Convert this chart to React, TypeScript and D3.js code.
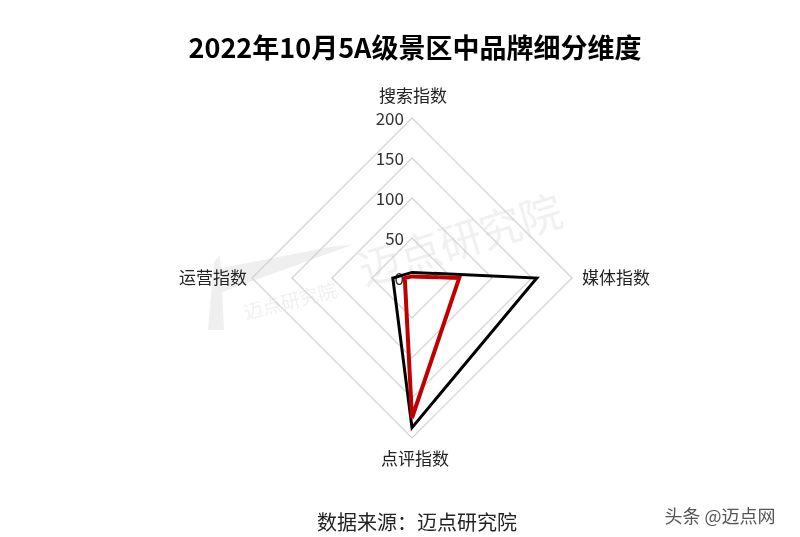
import React from "react";
import * as d3 from "d3";

const axes = ["搜索指数", "媒体指数", "点评指数", "运营指数"];
const seriesBlack = [7, 156, 187, 24];
const seriesRed = [2, 59, 175, 9];
const ticks = [0, 50, 100, 150, 200];
const title = "2022年10月5A级景区中品牌细分维度";
const source = "数据来源：迈点研究院";

const FONT = "'Noto Sans CJK SC', 'Noto Sans', sans-serif";

export default function App() {
  const W = 800, H = 537;
  const cx = 412, cy = 278, R = 160;
  const r = d3.scaleLinear().domain([0, 200]).range([0, R]);
  const angle = (i: number) => (i * 2 * Math.PI) / axes.length;
  const pt = (i: number, v: number): [number, number] => [
    cx + r(v) * Math.sin(angle(i)),
    cy - r(v) * Math.cos(angle(i)),
  ];
  const line = d3.line<[number, number]>().curve(d3.curveLinearClosed);
  const poly = (vals: number[]) => line(vals.map((v, i) => pt(i, v))) || "";
  const labelPos = [
    { x: cx + 1, y: cy - R - 16, anchor: "middle" },
    { x: cx + R + 10, y: cy + 6, anchor: "start" },
    { x: cx + 3, y: cy + R + 27, anchor: "middle" },
    { x: cx - R - 5, y: cy + 6, anchor: "end" },
  ];
  return (
    <svg width={W} height={H} style={{ position: "absolute", left: 0, top: 0, background: "#fff" }}>
      <rect width={W} height={H} fill="#fff" />
      {/* watermarks */}
      <g opacity={0.09} fill="#555">
        <text x={465} y={255} fontSize={42} fontFamily={FONT} textAnchor="middle" transform="rotate(-17 465 255)">迈点研究院</text>
        <polygon points="222,268 330,247 352,245 222,292" fill="#444" />
        <polygon points="208,330 214,262 220,255 224,330" fill="#444" />
        <text x={292} y={308} fontSize={19} fontFamily={FONT} textAnchor="middle" transform="rotate(-14 292 308)">迈点研究院</text>
      </g>
      {/* grid */}
      {ticks.slice(1).map((t) => (
        <path key={t} d={poly(axes.map(() => t))} fill="none" stroke="#d0d0d0" strokeWidth={1.2} />
      ))}
      {/* tick labels */}
      {ticks.map((t) => (
        <text key={t} x={cx - 8} y={cy - r(t) + 7} fontSize={17} fontFamily={FONT} textAnchor="end" fill="#333">{t}</text>
      ))}
      {/* series */}
      <path d={poly(seriesBlack)} fill="none" stroke="#000" strokeWidth={3} strokeLinejoin="miter" />
      <path d={poly(seriesRed)} fill="none" stroke="#c00000" strokeWidth={4} strokeLinejoin="miter" />
      {/* axis labels */}
      {axes.map((a, i) => (
        <text key={a} x={labelPos[i].x} y={labelPos[i].y} fontSize={17} fontFamily={FONT} textAnchor={labelPos[i].anchor as any} fill="#222">{a}</text>
      ))}
      <text x={415} y={58} fontSize={27} fontWeight="bold" fontFamily={FONT} textAnchor="middle" fill="#000">{title}</text>
      <text x={417} y={530} fontSize={20} fontFamily={FONT} textAnchor="middle" fill="#222">{source}</text>
      <text x={720} y={523} fontSize={18} fontFamily={FONT} textAnchor="middle" fill="#555">头条 @迈点网</text>
    </svg>
  );
}
